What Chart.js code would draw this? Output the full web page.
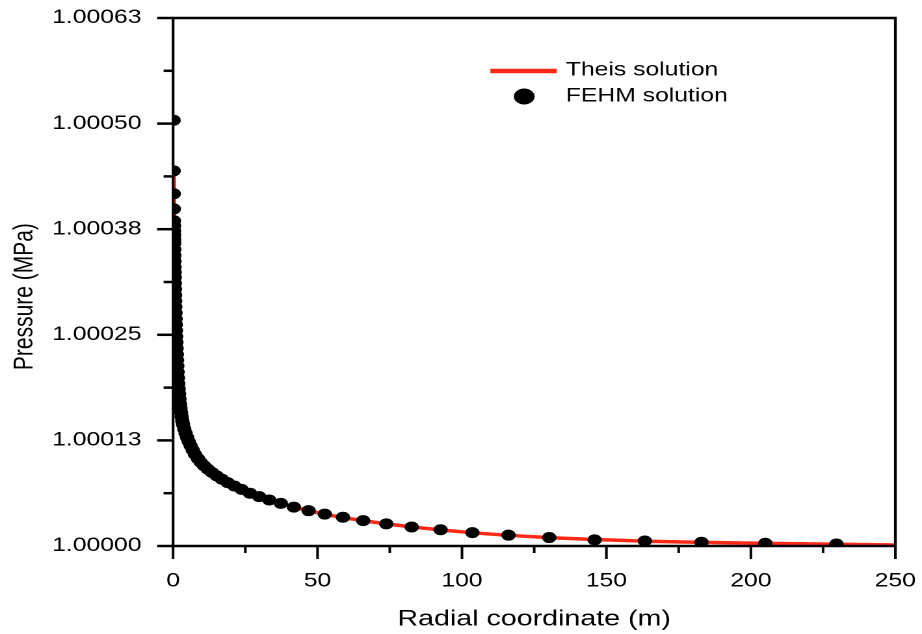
<!DOCTYPE html>
<html>
<head>
<meta charset="utf-8">
<script src="https://cdn.jsdelivr.net/npm/chart.js@4.4.1/dist/chart.umd.min.js"></script>
<style>
  html, body { margin: 0; padding: 0; background: #fff; overflow: hidden; }
  /* the reference picture is stretched sideways, so the chart is drawn narrow and scaled */
  #wrap { width: 709px; height: 634px; transform: scaleX(1.3004); transform-origin: 0 0; }
</style>
</head>
<body>
<div id="wrap"><canvas id="chart"></canvas></div>
<script>
// radial coordinate (m) and pressure (MPa)
const fehmR = [0.17, 0.2, 0.23, 0.26, 0.29, 0.31, 0.33, 0.35, 0.37, 0.39,
  0.42, 0.45, 0.48, 0.51, 0.54, 0.57, 0.61, 0.65, 0.69, 0.73,
  0.78, 0.83, 0.88, 0.94, 1.0, 1.07, 1.14, 1.21, 1.29, 1.38,
  1.47, 1.57, 1.68, 1.80, 1.93, 2.07, 2.22, 2.38, 2.56, 2.75,
  2.96, 3.2, 3.45, 3.86, 4.33, 4.85, 5.4, 6.1, 6.8, 7.6,
  8.6, 9.6, 10.7, 12.0, 13.5, 15.1, 16.9, 18.9, 21.2, 23.7,
  26.6, 29.8, 33.3, 37.3, 41.8, 46.9, 52.5, 58.8, 65.8, 73.8,
  82.6, 92.6, 103.6, 116.1, 130.2, 145.9, 163.3, 182.9, 205.0, 229.6];
const fehmP = [1.000504, 1.000444, 1.000417, 1.000399, 1.000385, 1.000379, 1.000373, 1.000368, 1.000363, 1.000358,
  1.000351, 1.000344, 1.000337, 1.00033, 1.000324, 1.000318, 1.000311, 1.000304, 1.000297, 1.00029,
  1.000283, 1.000276, 1.000269, 1.000262, 1.000255, 1.000248, 1.000241, 1.000234, 1.000227, 1.00022,
  1.000213, 1.000206, 1.000199, 1.000192, 1.000186, 1.00018, 1.000174, 1.000168, 1.000163, 1.000158,
  1.000153, 1.000148, 1.000144, 1.0001385, 1.0001335, 1.0001285, 1.0001235, 1.0001185, 1.0001135, 1.0001085,
  1.0001035, 1.000099, 1.000095, 1.000091, 1.000087, 1.000083, 1.000079, 1.000075, 1.000071, 1.000067,
  1.0000625, 1.0000585, 1.0000545, 1.0000505, 1.000046, 1.0000418, 1.0000378, 1.000034, 1.00003, 1.0000262,
  1.0000225, 1.0000192, 1.0000158, 1.0000128, 1.00001, 1.0000073, 1.0000059, 1.0000044, 1.0000032, 1.0000024];

const theisR = [0.2, 0.3, 0.4, 0.5, 0.7, 1, 1.5, 2, 3, 5, 8, 12, 18, 25, 35, 50, 70, 100, 130, 160, 200, 250];
const theisP = [1.000444, 1.000382, 1.000355, 1.000331, 1.000294, 1.000255, 1.000209, 1.000183, 1.000152, 1.000127,
  1.0001065, 1.000091, 1.000077, 1.000065, 1.000053, 1.0000395, 1.000028, 1.0000168, 1.00001, 1.0000061,
  1.0000034, 1.0000012];

const yTickValues = [1, 1.0000625, 1.000125, 1.0001875, 1.00025, 1.0003125, 1.000375, 1.0004375, 1.0005, 1.0005625, 1.000625];
const yTickLabels = ['1.00000', '', '1.00013', '', '1.00025', '', '1.00038', '', '1.00050', '', '1.00063'];

const FONT = "'Liberation Sans', Arial, sans-serif";
const RED = '#ff2b17';

// box round the plot plus long/short tick marks
const framePlugin = {
  id: 'frame',
  afterDraw(chart) {
    const { ctx, chartArea: a, scales: { x, y } } = chart;
    const seg = (x1, y1, x2, y2) => { ctx.beginPath(); ctx.moveTo(x1, y1); ctx.lineTo(x2, y2); ctx.stroke(); };
    ctx.save();
    ctx.strokeStyle = '#000';
    ctx.lineWidth = 2.5;
    y.ticks.forEach((t, i) => {
      const py = y.getPixelForValue(t.value);
      seg(a.left - (i % 2 ? 7.3 : 12.3), py, a.left, py);
    });
    ctx.lineWidth = 2;
    x.ticks.forEach((t, i) => {
      const px = x.getPixelForValue(t.value);
      seg(px, a.bottom, px, a.bottom + (i % 2 ? 7 : 13));
    });
    ctx.lineWidth = 2.6;
    seg(a.left - 1, a.top, a.right + 1, a.top);
    seg(a.left - 1, a.bottom, a.right + 1, a.bottom);
    ctx.lineWidth = 2.1;
    seg(a.left, a.top, a.left, a.bottom);
    seg(a.right, a.top, a.right, a.bottom);
    ctx.restore();
  }
};

const legendPlugin = {
  id: 'legendBox',
  afterDraw(chart) {
    const { ctx, chartArea: a } = chart;
    const ds = chart.data.datasets;
    const lx = a.left + 244, ty = a.top + 53;
    ctx.save();
    ctx.strokeStyle = RED;
    ctx.lineWidth = 4.5;
    ctx.beginPath(); ctx.moveTo(lx, ty); ctx.lineTo(lx + 51, ty); ctx.stroke();
    ctx.fillStyle = '#000';
    ctx.beginPath(); ctx.arc(lx + 26, ty + 25.5, 8, 0, Math.PI * 2); ctx.fill();
    ctx.font = '19px ' + FONT;
    ctx.textBaseline = 'middle';
    ctx.textAlign = 'left';
    ctx.fillText(ds[1].label, lx + 58, ty - 0.5);
    ctx.fillText(ds[0].label, lx + 58, ty + 25.5);
    ctx.restore();
  }
};

new Chart(document.getElementById('chart'), {
  type: 'scatter',
  data: {
    datasets: [{
      label: 'FEHM solution',
      data: fehmR.map((r, i) => ({ x: r, y: fehmP[i] })),
      pointRadius: 5.5,
      pointBackgroundColor: '#000',
      pointBorderWidth: 0,
      showLine: false,
      clip: 0,
      order: 0
    }, {
      label: 'Theis solution',
      data: theisR.map((r, i) => ({ x: r, y: theisP[i] })),
      showLine: true,
      borderColor: RED,
      borderWidth: 3.5,
      pointRadius: 0,
      cubicInterpolationMode: 'monotone',
      clip: 0,
      order: 1
    }]
  },
  options: {
    responsive: true,
    maintainAspectRatio: false,
    animation: false,
    devicePixelRatio: 2,
    layout: { padding: { top: 18, right: 20.5, left: 0, bottom: 0 } },
    plugins: { legend: { display: false }, tooltip: { enabled: false } },
    scales: {
      x: {
        type: 'linear', min: 0, max: 250,
        afterFit: s => { s.height = 88; s.paddingLeft = 0; s.paddingRight = 0; },
        ticks: {
          stepSize: 25, autoSkip: false, maxRotation: 0, padding: 11, color: '#000',
          font: { family: FONT, size: 19 },
          callback: v => (v % 50 === 0 ? String(v) : '')
        },
        grid: { drawOnChartArea: false, tickLength: 13, tickColor: 'rgba(0,0,0,0)' },
        border: { display: false },
        title: { display: true, text: 'Radial coordinate (m)', color: '#000', font: { family: FONT, size: 22 }, padding: { top: 0, bottom: 1.3 } }
      },
      y: {
        type: 'linear', min: 1, max: 1.000625,
        afterFit: s => { s.width = 133.1; s.paddingTop = 0; s.paddingBottom = 0; },
        afterBuildTicks: s => { s.ticks = yTickValues.map(v => ({ value: v })); },
        ticks: {
          autoSkip: false, padding: 12, color: '#000',
          font: { family: FONT, size: 19 },
          callback: (v, i) => yTickLabels[i]
        },
        grid: { drawOnChartArea: false, tickLength: 12.3, tickColor: 'rgba(0,0,0,0)' },
        border: { display: false },
        title: { display: true, text: 'Pressure (MPa)     ', color: '#000', font: { family: FONT, size: 21 }, padding: { top: 6.6, bottom: 0 } }
      }
    }
  },
  plugins: [framePlugin, legendPlugin]
});
</script>
</body>
</html>
